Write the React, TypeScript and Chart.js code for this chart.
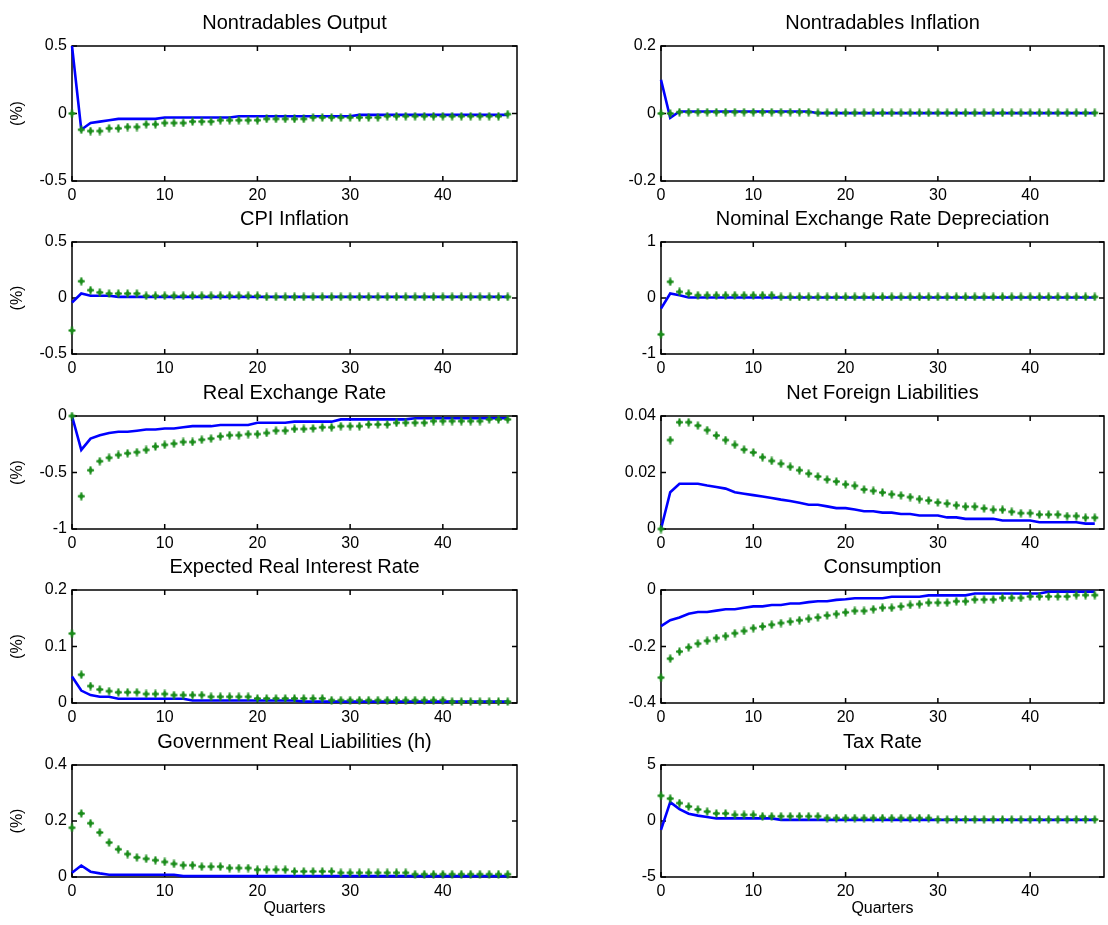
import React, { useEffect, useRef } from 'react';
import { Chart, registerables } from 'chart.js';

Chart.register(...registerables);

// ---------- data ----------
const quarters = [0,1,2,3,4,5,6,7,8,9,10,11,12,13,14,15,16,17,18,19,20,21,22,23,24,25,26,27,28,29,30,31,32,33,34,35,36,37,38,39,40,41,42,43,44,45,46,47];
const xTicks = [0, 10, 20, 30, 40];
const xMax = 48;

// Nontradables Output
const ntOutputLine = [0.5,-0.12,-0.07,-0.06,-0.05,-0.04,-0.04,-0.04,-0.04,-0.04,
  -0.03,-0.03,-0.03,-0.03,-0.03,-0.03,-0.03,-0.03,
  -0.02,-0.02,-0.02,-0.02,-0.02,-0.02,-0.02,-0.02,-0.02,-0.02,-0.02,-0.02,-0.02,
  -0.01,-0.01,-0.01,-0.01,-0.01,-0.01,-0.01,-0.01,-0.01,-0.01,-0.01,-0.01,-0.01,-0.01,-0.01,-0.01,-0.01];
const ntOutputDots = [0,-0.12,-0.13,-0.13,-0.11,-0.11,-0.10,-0.10,-0.08,-0.08,
  -0.07,-0.07,-0.07,-0.06,-0.06,-0.06,-0.05,-0.05,-0.05,-0.05,-0.05,
  -0.04,-0.04,-0.04,-0.04,-0.04,-0.03,-0.03,-0.03,-0.03,-0.03,-0.03,-0.03,-0.03,
  -0.02,-0.02,-0.02,-0.02,-0.02,-0.02,-0.02,-0.02,-0.02,-0.02,-0.02,-0.02,-0.02,-0.005];
const ntOutputTicks = [-0.5, 0, 0.5];

// Nontradables Inflation
const ntInflLine = [0.10,-0.013,0.006,0.006,0.006,0.006,0.006,0.006,0.006,0.006,0.006,0.006,0.006,0.006,0.006,0.006,0.006,
  0.001,0.001,0.001,0.001,0.001,0.001,0.001,0.001,0.001,0.001,0.001,0.001,0.001,0.001,0.001,0.001,0.001,0.001,0.001,0.001,0.001,0.001,0.001,0.001,0.001,0.001,0.001,0.001,0.001,0.001,0.001];
const ntInflDots = [0,0,0.004,0.004,0.004,0.004,0.004,0.004,0.004,0.004,0.004,0.004,0.004,0.004,0.004,0.004,0.004,
  0.002,0.002,0.002,0.002,0.002,0.002,0.002,0.002,0.002,0.002,0.002,0.002,0.002,0.002,0.002,0.002,0.002,0.002,0.002,0.002,0.002,0.002,0.002,0.002,0.002,0.002,0.002,0.002,0.002,0.002,0.002];
const ntInflTicks = [-0.2, 0, 0.2];

// CPI Inflation
const cpiLine = [-0.04,0.04,0.02,0.02,0.02,
  0.01,0.01,0.01,0.01,0.01,0.01,0.01,0.01,0.01,0.01,0.01,0.01,0.01,0.01,0.01,0.01,0.01,0.01,0.01,0.01,0.01,0.01,0.01,0.01,0.01,0.01,0.01,0.01,0.01,0.01,0.01,0.01,0.01,0.01,0.01,0.01,0.01,0.01,0.01,0.01,0.01,0.01,0.01];
const cpiDots = [-0.29,0.15,0.07,0.05,0.04,0.04,0.04,0.04,
  0.02,0.02,0.02,0.02,0.02,0.02,0.02,0.02,0.02,0.02,0.02,0.02,0.02,
  0.01,0.01,0.01,0.01,0.01,0.01,0.01,0.01,0.01,0.01,0.01,0.01,0.01,0.01,0.01,0.01,0.01,0.01,0.01,0.01,0.01,0.01,0.01,0.01,0.01,0.01,0.01];
const cpiTicks = [-0.5, 0, 0.5];

// Nominal Exchange Rate Depreciation
const nerLine = [-0.19,0.08,0.05,
  0.01,0.01,0.01,0.01,0.01,0.01,0.01,0.01,0.01,0.01,0.01,0.01,0.01,0.01,0.01,0.01,0.01,0.01,0.01,0.01,0.01,0.01,0.01,0.01,0.01,0.01,0.01,0.01,0.01,0.01,0.01,0.01,0.01,0.01,0.01,0.01,0.01,0.01,0.01,0.01,0.01,0.01,0.01,0.01,0.01];
const nerDots = [-0.65,0.29,0.11,0.08,
  0.05,0.05,0.05,0.05,0.05,0.05,0.05,0.05,0.05,
  0.02,0.02,0.02,0.02,0.02,0.02,0.02,0.02,0.02,0.02,0.02,0.02,0.02,0.02,0.02,0.02,0.02,0.02,0.02,0.02,0.02,0.02,0.02,0.02,0.02,0.02,0.02,0.02,0.02,0.02,0.02,0.02,0.02,0.02,0.02];
const nerTicks = [-1, 0, 1];

// Real Exchange Rate
const rerLine = [0,-0.30,-0.20,-0.17,-0.15,-0.14,-0.14,-0.13,-0.12,-0.12,-0.11,-0.11,-0.10,-0.09,-0.09,-0.09,
  -0.08,-0.08,-0.08,-0.08,-0.06,-0.06,-0.06,-0.06,-0.05,-0.05,-0.05,-0.05,-0.05,
  -0.03,-0.03,-0.03,-0.03,-0.03,-0.03,-0.03,-0.03,
  -0.02,-0.02,-0.02,-0.02,-0.02,-0.02,-0.02,-0.02,-0.02,-0.02,-0.02];
const rerDots = [0,-0.71,-0.48,-0.40,-0.37,-0.345,-0.33,-0.32,-0.30,-0.27,-0.255,-0.245,-0.23,-0.23,-0.21,-0.20,
  -0.18,-0.17,-0.17,-0.16,-0.16,-0.15,-0.13,-0.13,-0.115,-0.115,-0.11,-0.10,-0.10,-0.09,-0.09,-0.09,
  -0.075,-0.075,-0.075,-0.06,-0.06,-0.06,-0.06,-0.045,-0.045,-0.045,-0.045,-0.045,-0.045,-0.03,-0.03,-0.03];
const rerTicks = [-1, -0.5, 0];

// Net Foreign Liabilities
const nflLine = [0,0.013,0.016,0.016,0.016,0.0154,0.0149,0.0143,0.013,0.0125,
  0.012,0.0115,0.011,0.0104,0.0099,0.0093,0.0086,0.0086,0.008,0.0074,
  0.0074,0.0069,0.0063,0.0063,0.0058,0.0058,0.0053,0.0053,0.0048,0.0048,
  0.0048,0.0041,0.0041,0.0036,0.0036,0.0036,0.0036,0.003,0.003,0.003,
  0.003,0.0024,0.0024,0.0024,0.0024,0.0024,0.0019,0.0019];
const nflDots = [0,0.0315,0.0378,0.0378,0.0366,0.035,0.0331,0.0315,0.0298,0.0281,
  0.0271,0.0254,0.0241,0.0231,0.022,0.0208,0.0196,0.0186,0.0175,0.0168,
  0.0158,0.0153,0.014,0.0135,0.0129,0.0123,0.0119,0.0113,0.0106,0.0101,
  0.0094,0.009,0.0084,0.0079,0.0079,0.0073,0.0068,0.0068,0.0061,0.0056,
  0.0056,0.0051,0.0051,0.0051,0.0046,0.0046,0.004,0.004];
const nflTicks = [0, 0.02, 0.04];

// Expected Real Interest Rate
const eriLine = [0.047,0.022,0.014,0.011,0.011,
  0.0076,0.0076,0.0076,0.0076,0.0076,0.0076,0.0076,0.0076,
  0.0044,0.0044,0.0044,0.0044,0.0044,0.0044,0.0044,0.0044,0.0044,0.0044,0.0044,0.0044,
  0.0025,0.0025,0.0025,0.0025,0.0025,0.0025,0.0025,0.0025,0.0025,0.0025,0.0025,0.0025,0.0025,0.0025,0.0025,0.0025,0.0025,0.0025,0.0025,0.0025,0.0025,0.0025,0.0025];
const eriDots = [0.123,0.05,0.03,0.024,0.021,0.019,0.019,0.019,0.016,0.016,0.016,
  0.014,0.014,0.014,0.014,
  0.011,0.011,0.011,0.011,0.011,
  0.008,0.008,0.008,0.008,0.008,0.008,0.008,0.008,
  0.005,0.005,0.005,0.005,0.005,0.005,0.005,0.005,0.005,0.005,0.005,0.005,0.005,
  0.0025,0.0025,0.0025,0.0025,0.0025,0.0025,0.0025];
const eriTicks = [0, 0.1, 0.2];

// Consumption
const consLine = [-0.128,-0.107,-0.097,-0.084,-0.078,-0.078,-0.073,-0.068,-0.068,-0.063,
  -0.058,-0.058,-0.053,-0.053,-0.048,-0.048,-0.043,-0.04,-0.04,-0.035,
  -0.033,-0.029,-0.029,-0.029,-0.029,-0.024,-0.024,-0.024,-0.024,-0.019,
  -0.019,-0.019,-0.019,-0.019,
  -0.0125,-0.0125,-0.0125,-0.0125,-0.0125,-0.0125,-0.0125,-0.0125,
  -0.006,-0.006,-0.006,-0.006,-0.006,-0.006];
const consDots = [-0.31,-0.243,-0.218,-0.203,-0.19,-0.18,-0.17,-0.163,-0.153,-0.145,
  -0.135,-0.129,-0.123,-0.117,-0.112,-0.107,-0.102,-0.097,-0.09,-0.085,
  -0.079,-0.074,-0.074,-0.068,-0.063,-0.063,-0.058,-0.053,-0.05,-0.045,
  -0.045,-0.045,-0.04,-0.04,-0.034,-0.034,-0.034,-0.028,-0.028,-0.028,
  -0.023,-0.023,-0.023,-0.023,-0.023,-0.018,-0.018,-0.018];
const consTicks = [-0.4, -0.2, 0];

// Government Real Liabilities (h)
const grlLine = [0.015,0.041,0.019,0.013,
  0.008,0.008,0.008,0.008,0.008,0.008,0.008,0.008,
  0.003,0.003,0.003,0.003,0.003,0.003,0.003,0.003,0.003,0.003,0.003,0.003,0.003,0.003,0.003,0.003,0.003,0.003,0.003,0.003,0.003,0.003,0.003,0.003,0.003,0.003,0.003,0.003,0.003,0.003,0.003,0.003,0.003,0.003,0.003,0.003];
const grlDots = [0.176,0.227,0.192,0.159,0.123,0.099,0.082,0.07,0.065,0.06,0.054,0.047,0.042,0.042,0.037,0.037,0.037,0.032,0.032,0.032,0.026,0.026,0.026,0.026,
  0.02,0.02,0.02,0.02,0.02,
  0.015,0.015,0.015,0.015,0.015,0.015,0.015,0.015,
  0.01,0.01,0.01,0.01,0.01,0.01,0.01,0.01,0.01,0.01,0.01];
const grlTicks = [0, 0.2, 0.4];

// Tax Rate
const taxLine = [-0.8,1.68,1.06,0.65,0.48,0.35,
  0.23,0.23,0.23,0.23,0.23,0.23,0.23,
  0.1,0.1,0.1,0.1,0.1,0.1,0.1,0.1,0.1,0.1,0.1,0.1,0.1,0.1,0.1,0.1,0.1,0.1,0.1,0.1,0.1,0.1,0.1,0.1,0.1,0.1,0.1,0.1,0.1,0.1,0.1,0.1,0.1,0.1,0.1];
const taxDots = [2.26,2.0,1.6,1.29,1.03,0.84,0.68,0.68,0.55,0.55,0.55,
  0.42,0.42,0.42,0.42,0.42,0.42,0.42,
  0.26,0.26,0.26,0.26,0.26,0.26,0.26,0.26,0.26,0.26,0.26,0.26,
  0.13,0.13,0.13,0.13,0.13,0.13,0.13,0.13,0.13,0.13,0.13,0.13,0.13,0.13,0.13,0.13,0.13,0.13];
const taxTicks = [-5, 0, 5];

const titles = [
  'Nontradables Output', 'Nontradables Inflation',
  'CPI Inflation', 'Nominal Exchange Rate Depreciation',
  'Real Exchange Rate', 'Net Foreign Liabilities',
  'Expected Real Interest Rate', 'Consumption',
  'Government Real Liabilities (h)', 'Tax Rate',
];
const lines = [ntOutputLine, ntInflLine, cpiLine, nerLine, rerLine, nflLine, eriLine, consLine, grlLine, taxLine];
const dots = [ntOutputDots, ntInflDots, cpiDots, nerDots, rerDots, nflDots, eriDots, consDots, grlDots, taxDots];
const yTickSets = [ntOutputTicks, ntInflTicks, cpiTicks, nerTicks, rerTicks, nflTicks, eriTicks, consTicks, grlTicks, taxTicks];
const yLabel = '(%)';
const xLabel = 'Quarters';

// ---------- styles / layout ----------
const FONT = '"Liberation Sans", Arial, Helvetica, sans-serif';
const BLUE = '#0000ff';
const GREEN = '#1a8c1a';
const COLS = [{ l: 72, r: 518 }, { l: 661, r: 1105 }];
const ROWS = [
  { t: 46, b: 181 },
  { t: 242, b: 354 },
  { t: 416, b: 529 },
  { t: 590, b: 703 },
  { t: 765, b: 877 },
];
const Y_AXIS_W = 72;
const TITLE_SPACE = 40;
const RIGHT_PAD = 3;

function geom(i: number) {
  const col = i % 2;
  const row = Math.floor(i / 2);
  const c = COLS[col];
  const r = ROWS[row];
  const xH = row === 4 ? 45 : 30;
  const x = c.l - Y_AXIS_W;
  const y = r.t - TITLE_SPACE;
  const w = c.r - x + RIGHT_PAD;
  const h = r.b - y + xH;
  return { col, row, x, y, w, h, xH };
}

function makeMarker(): HTMLCanvasElement {
  const c = document.createElement('canvas');
  c.width = 9;
  c.height = 9;
  const g = c.getContext('2d')!;
  g.fillStyle = GREEN;
  g.fillRect(3.5, 0.5, 2, 8);
  g.fillRect(1, 3.5, 7, 2);
  g.beginPath();
  g.moveTo(4.5, 1.5);
  g.lineTo(7.4, 4.5);
  g.lineTo(4.5, 7.5);
  g.lineTo(1.6, 4.5);
  g.closePath();
  g.fill();
  return c;
}

const framePlugin = {
  id: 'matlabFrame',
  beforeDatasetsDraw(chart: any) {
    const { ctx, chartArea, scales } = chart;
    const { left, top, right, bottom } = chartArea;
    const x = scales.x;
    const y = scales.y;
    const tl = 5;
    ctx.save();
    ctx.strokeStyle = '#000';
    ctx.lineWidth = 1.5;
    ctx.strokeRect(left, top, right - left, bottom - top);
    ctx.beginPath();
    x.ticks.forEach((t: any) => {
      const px = x.getPixelForValue(t.value);
      ctx.moveTo(px, bottom);
      ctx.lineTo(px, bottom - tl);
      ctx.moveTo(px, top);
      ctx.lineTo(px, top + tl);
    });
    y.ticks.forEach((t: any) => {
      const py = y.getPixelForValue(t.value);
      ctx.moveTo(left, py);
      ctx.lineTo(left + tl, py);
      ctx.moveTo(right, py);
      ctx.lineTo(right - tl, py);
    });
    ctx.stroke();
    ctx.restore();
  },
};

function buildConfig(i: number, marker: HTMLCanvasElement): any {
  const g = geom(i);
  const isLeft = g.col === 0;
  const isBottom = g.row === 4;
  const yt = yTickSets[i];
  return {
    type: 'line',
    data: {
      datasets: [
        {
          label: 'dots',
          data: quarters.map((q, k) => ({ x: q, y: dots[i][k] })),
          showLine: false,
          pointStyle: marker,
          pointRadius: 4,
          pointHoverRadius: 4,
          borderWidth: 0,
          backgroundColor: GREEN,
          borderColor: GREEN,
          clip: false,
        },
        {
          label: 'line',
          data: quarters.map((q, k) => ({ x: q, y: lines[i][k] })),
          borderColor: BLUE,
          backgroundColor: BLUE,
          borderWidth: 2.6,
          pointRadius: 0,
          pointHoverRadius: 0,
          tension: 0,
          fill: false,
          clip: false,
        },
      ],
    },
    options: {
      responsive: false,
      animation: false,
      devicePixelRatio: 1,
      events: [],
      layout: { padding: { left: 0, right: RIGHT_PAD, top: 0, bottom: 0 } },
      plugins: {
        legend: { display: false },
        tooltip: { enabled: false },
        title: {
          display: true,
          text: titles[i],
          color: '#000',
          fullSize: false,
          font: { size: 20, weight: 'normal', family: FONT, lineHeight: 1.2 },
          padding: { top: 5, bottom: 11 },
        },
      },
      scales: {
        x: {
          type: 'linear',
          min: 0,
          max: xMax,
          afterBuildTicks: (ax: any) => {
            ax.ticks = xTicks.map((v) => ({ value: v }));
          },
          afterFit: (ax: any) => {
            ax.height = g.xH;
          },
          grid: { display: false, drawTicks: false },
          border: { display: false },
          ticks: {
            color: '#000',
            font: { size: 16, family: FONT },
            padding: 5,
            maxRotation: 0,
            autoSkip: false,
            callback: (v: any) => String(v),
          },
          title: {
            display: isBottom,
            text: xLabel,
            color: '#000',
            font: { size: 16, family: FONT, lineHeight: 1.2 },
            padding: { top: 0, bottom: 4 },
          },
        },
        y: {
          type: 'linear',
          min: yt[0],
          max: yt[yt.length - 1],
          afterBuildTicks: (ax: any) => {
            ax.ticks = yt.map((v) => ({ value: v }));
          },
          afterFit: (ax: any) => {
            ax.width = Y_AXIS_W;
          },
          grid: { display: false, drawTicks: false },
          border: { display: false },
          ticks: {
            color: '#000',
            font: { size: 16, family: FONT },
            padding: 5,
            autoSkip: false,
            callback: (v: any) => String(v),
          },
          title: {
            display: isLeft,
            text: yLabel,
            color: '#000',
            font: { size: 16, family: FONT, lineHeight: 1.2 },
            padding: { top: 8.4, bottom: 0 },
          },
        },
      },
    },
    plugins: [framePlugin],
  };
}

export default function App() {
  const refs = useRef<(HTMLCanvasElement | null)[]>([]);

  useEffect(() => {
    const marker = makeMarker();
    const charts = titles.map((_, i) => new Chart(refs.current[i] as HTMLCanvasElement, buildConfig(i, marker)));
    return () => {
      charts.forEach((c) => c.destroy());
    };
  }, []);

  return (
    <div style={{ position: 'absolute', left: 0, top: 0, width: 1108, height: 925, background: '#fff', overflow: 'hidden' }}>
      {titles.map((t, i) => {
        const g = geom(i);
        return (
          <canvas
            key={t}
            ref={(el) => {
              refs.current[i] = el;
            }}
            width={g.w}
            height={g.h}
            style={{ position: 'absolute', left: g.x, top: g.y, width: g.w, height: g.h }}
          />
        );
      })}
    </div>
  );
}
